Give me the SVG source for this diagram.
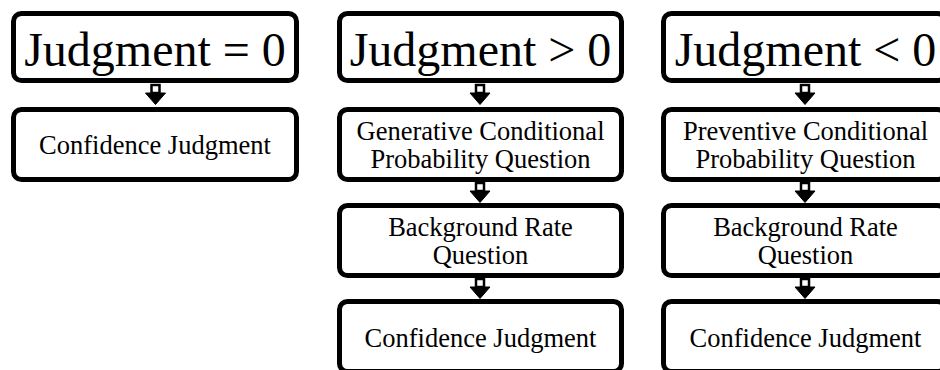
<svg xmlns="http://www.w3.org/2000/svg" width="940" height="370" viewBox="0 0 940 370">
<style>
.box{fill:#fff;stroke:#000;stroke-width:5}
.big{font-family:"Liberation Serif","Times New Roman",serif;font-size:48px;text-anchor:middle;fill:#000}
.txt{font-family:"Liberation Serif","Times New Roman",serif;font-size:26.5px;text-anchor:middle;fill:#000}
.shaft{fill:#fff;stroke:#000;stroke-width:2.5}
.head{fill:#000;stroke:#000;stroke-width:1}
</style>
<defs>
<g id="arr">
<rect class="shaft" x="-4" y="0" width="8" height="8"/>
<polygon class="head" points="-10,8 10,8 0,19.5"/>
</g>
</defs>
<rect width="940" height="370" fill="#fff"/>
<g id="n1a"><rect class="box" x="13.5" y="13.5" width="283" height="67" rx="8"/><text class="big" x="155" y="66">Judgment = 0</text></g>
<g id="n1b"><rect class="box" x="13.5" y="109.5" width="283" height="70" rx="8"/><text class="txt" x="155" y="154">Confidence Judgment</text></g>
<g id="n2a"><rect class="box" x="339.5" y="13.5" width="282" height="67" rx="8"/><text class="big" x="480.5" y="66">Judgment &gt; 0</text></g>
<g id="n2b"><rect class="box" x="339.5" y="109.5" width="282" height="70" rx="8"/><text class="txt" x="480.5" y="139.5">Generative Conditional</text><text class="txt" x="480.5" y="167.5">Probability Question</text></g>
<g id="n2c"><rect class="box" x="339.5" y="205.5" width="282" height="70" rx="8"/><text class="txt" x="480.5" y="235.5">Background Rate</text><text class="txt" x="480.5" y="263.5">Question</text></g>
<g id="n2d"><rect class="box" x="339.5" y="301.5" width="282" height="70" rx="8"/><text class="txt" x="480.5" y="346.5">Confidence Judgment</text></g>
<g id="n3a"><rect class="box" x="663.5" y="13.5" width="282" height="67" rx="8"/><text class="big" x="805.5" y="66">Judgment &lt; 0</text></g>
<g id="n3b"><rect class="box" x="663.5" y="109.5" width="282" height="70" rx="8"/><text class="txt" x="805.5" y="139.5">Preventive Conditional</text><text class="txt" x="805.5" y="167.5">Probability Question</text></g>
<g id="n3c"><rect class="box" x="663.5" y="205.5" width="282" height="70" rx="8"/><text class="txt" x="805.5" y="235.5">Background Rate</text><text class="txt" x="805.5" y="263.5">Question</text></g>
<g id="n3d"><rect class="box" x="663.5" y="301.5" width="282" height="70" rx="8"/><text class="txt" x="805.5" y="346.5">Confidence Judgment</text></g>
<g id="connectors">
<use href="#arr" x="155.5" y="85"/>
<use href="#arr" x="480" y="85"/>
<use href="#arr" x="480" y="183"/>
<use href="#arr" x="480" y="279"/>
<use href="#arr" x="805" y="85"/>
<use href="#arr" x="805" y="183"/>
<use href="#arr" x="805" y="279"/>
</g>
</svg>
